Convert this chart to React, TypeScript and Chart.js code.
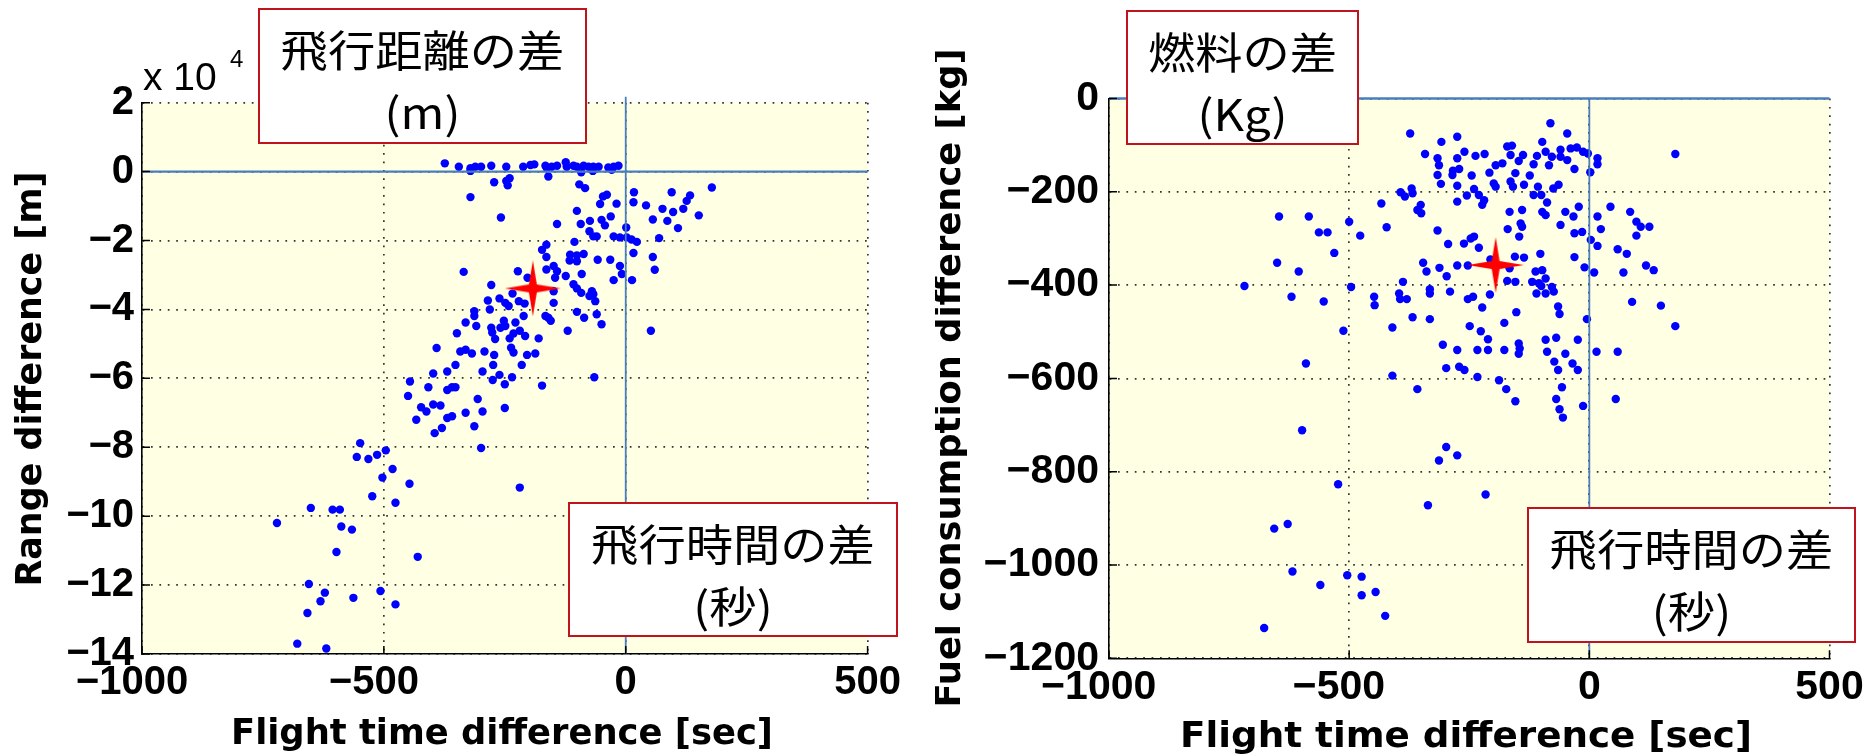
import React, { useEffect, useRef } from 'react';
import { Chart, registerables } from 'chart.js';

Chart.register(...registerables);

// ---------------- Data: left panel (flight time difference [sec] vs range difference [m])
const rangeTimeDiff = [
  -374, -345, -321, -311, -299, -278, -247, -212, -197, -189,
  -166, -163, -153, -142, -124, -122, -108, -101, -87, -77,
  -67, -56, -36, -25, -15, -321, -92, -68, -29, -272,
  -247, -240, -244, -160, -321, -258, -96, -84, -101, -142,
  -47, -39, -53, -19, 17, 16, 42, 95, 133, 126,
  119, 76, 98, 56, 86, 108, 151, 178, -74, -93,
  -50, -31, -43, -75, -67, -60, -25, -12, 1, 2,
  12, 23, 16, 69, 56, 60, -106, -164, -173, -164,
  -115, -101, -87, -116, -101, -58, -32, -12, -8, -25,
  13, -91, -149, -142, -164, -146, -124, -335, -223, -203,
  -278, -108, -70, -234, -221, -209, -149, -149, -101, -92,
  -75, -67, -63, -285, -261, -249, -242, -281, -313, -313,
  -211, -166, -160, -155, -101, -86, -60, -50, -120, 52,
  -331, -309, -349, -278, -276, -270, -259, -252, -249, -228,
  -219, -232, -240, -208, -180, -391, -342, -331, -318, -292,
  -272, -237, -232, -204, -187, -215, -274, -352, -369, -398,
  -296, -261, -235, -275, -250, -173, -65, -446, -408, -369,
  -359, -352, -450, -306, -423, -412, -398, -383, -433, -369,
  -359, -331, -296, -250, -395, -380, -313, -299, -549, -556,
  -532, -514, -496, -482, -503, -447, -524, -476, -219, -651,
  -606, -591, -721, -588, -566, -598, -430, -655, -622, -631,
  -563, -507, -476, -658, -679, -619,
];
const rangeDiff = [
  2400, 1400, 1000, 1400, 1400, 1700, 1400, 1400, 1900, 2100,
  1700, 1000, 1400, 1700, 2700, 1400, 1700, 1400, 1700, 1400,
  1400, 1400, 1200, 1400, 1700, 200, -200, 200, 500, -3100,
  -2700, -1900, -4000, -1400, -7400, -13300, -3700, -4800, -11400, -15200,
  -7200, -6700, -9400, -9300, -6000, -8900, -9800, -6000, -6900, -8500,
  -10800, -10800, -11700, -13900, -14300, -16400, -12700, -4600, -14300, -15200,
  -14000, -13000, -15600, -17300, -18800, -18800, -18800, -19100, -16200, -19100,
  -19700, -20400, -23600, -19300, -24800, -28500, -20400, -21200, -22700, -24800,
  -24100, -24300, -23900, -25800, -26000, -25600, -25600, -27400, -29700, -31500,
  -31500, -29700, -27400, -28900, -28400, -30800, -30300, -29100, -28900, -30800,
  -32900, -32700, -34700, -35400, -37600, -38300, -34700, -38100, -33900, -35200,
  -36100, -35600, -37600, -37400, -36800, -38100, -39000, -40000, -40500, -41900,
  -41900, -41900, -42400, -43300, -40700, -42400, -41400, -44300, -46200, -46200,
  -43800, -44800, -46900, -45300, -46700, -48600, -45300, -43300, -44800, -43800,
  -46200, -47000, -48400, -47700, -48400, -51200, -52200, -51700, -52800, -52200,
  -53200, -51100, -52500, -53200, -52800, -56100, -56100, -56100, -58000, -58600,
  -58000, -59000, -59700, -60500, -61700, -62100, -59700, -60900, -62600, -63400,
  -62600, -62600, -65100, -66000, -68400, -69600, -67600, -67900, -72000, -71500,
  -71000, -70000, -69600, -68600, -75900, -74400, -73900, -80200, -78800, -82800,
  -83400, -82200, -80900, -86300, -88800, -90600, -94200, -96100, -91700, -97600,
  -98100, -98100, -102000, -103000, -103900, -110400, -111800, -119700, -122200, -124700,
  -123700, -121700, -125600, -128100, -137000, -138400,
];
const rangeMeanTime = [-192];
const rangeMeanDiff = [-33900];

// ---------------- Data: right panel (flight time difference [sec] vs fuel consumption difference [kg])
const fuelTimeDiff = [
  -373, -308, -275, -342, -316, -313, -275, -260, -237, -218,
  -316, -309, -284, -271, -285, -275, -245, -208, -195, -181,
  -171, -161, -164, -147, -138, -199, -195, -164, -154, -159,
  -136, -124, -116, -109, -98, -91, -81, -84, -60, -46,
  -78, -60, -39, -46, -31, -64, -75, -107, -116, -100,
  -88, -98, -91, -50, -33, -60, -31, -370, -393, -384,
  -368, -433, -351, -358, -350, -275, -255, -240, -230, -219,
  -223, -166, -140, -500, -477, -422, -316, -143, -140, -170,
  -146, -294, -261, -247, -240, -230,
  -646, -584, -563, -545, -718,
  -26, -13, -3, 17, 17, 2, 179, -22, 17, 24,
  -15, 44, 85, 98, 107, 125, 98, 3, 17, 59,
  -650, -605, -531, -620, -553, -496, -512, -590, -598,
  -346, -339, -312, -297, -275, -253,
  -388, -448, -447, -396, -394, -380,
  -332, -332, -290, -253, -242,
  -223, -207, -206,
  -166, -171, -154, -155, -136,
  -112, -119, -110, -105,
  -368, -332, -410,
  -249, -226, -211,
  -177, -152,
  -305, -275, -233, -211, -177, -147, -145, -147,
  -298, -271, -260, -233,
  -410, -358,
  -188, -173, -154,
  -102, -31, -10, 10, 78, 71, 118, 134,
  -98, -91, -78, -74, -91, -100,
  -65, -62, -5, 89, 149, 179,
  -91, -69, -24, -88, -50, 15, 59,
  -73, -65, -35, -24,
  -57, -69, -62, -55, -13, 55,
  -298, -275, -313, -216, -336, -523, -656, -628, -618, -560,
  -504, -474, -474, -445, -425, -677,
];
const fuelDiff = [
  -75, -93, -82, -119, -128, -143, -128, -114, -123, -119,
  -164, -183, -155, -151, -164, -187, -165, -159, -143, -139,
  -103, -101, -121, -134, -121, -182, -189, -178, -160, -189,
  -185, -165, -141, -123, -93, -114, -53, -143, -110, -75,
  -125, -125, -107, -132, -151, -185, -193, -189, -207, -207,
  -223, -243, -250, -243, -253, -271, -289, -193, -201, -210,
  -203, -225, -228, -239, -246, -221, -208, -194, -207, -218,
  -228, -243, -239, -264, -294, -276, -283, -268, -275, -280,
  -296, -312, -311, -300, -296, -320,
  -253, -253, -287, -287, -402,
  -105, -114, -118, -128, -141, -158, -119, -232, -253, -280,
  -286, -232, -243, -264, -275, -275, -294, -303, -316, -323,
  -352, -371, -331, -425, -435, -404, -498, -568, -711,
  -352, -371, -363, -381, -358, -358,
  -393, -425, -443, -418, -430, -430,
  -409, -418, -414, -430, -425,
  -448, -420, -345,
  -364, -391, -393, -339, -341,
  -371, -393, -418, -396,
  -469, -473, -491,
  -488, -499, -516,
  -481, -458,
  -528, -539, -539, -539, -539, -525, -536, -547,
  -578, -575, -582, -597,
  -594, -623,
  -604, -623, -649,
  -333, -340, -362, -373, -333, -373, -358, -368,
  -368, -386, -404, -414, -418, -402,
  -446, -462, -473, -436, -444, -488,
  -517, -513, -517, -543, -547, -543, -543,
  -564, -582, -568, -582,
  -619, -644, -666, -684, -659, -644,
  -747, -765, -776, -849, -872, -827, -922, -912, -1014, -1043,
  -1022, -1025, -1065, -1058, -1109, -1135,
];
const fuelMeanTime = [-195];
const fuelMeanDiff = [-357];

// ---------------- Axes / ticks / reference lines
const timeTicks = [-1000, -500, 0, 500];
const rangeTicks = [20000, 0, -20000, -40000, -60000, -80000, -100000, -120000, -140000];
const rangeTickScale = 10000; // labels shown in units of 10^4 m
const fuelTicks = [0, -200, -400, -600, -800, -1000, -1200];
const zeroLineTimes = [-1000, 500];
const rangeZeroVertical = [-140000, 21700];
const fuelZeroVertical = [-1200, 0];

const DOT_BLUE = '#0000FF';
const REF_BLUE = '#4A7EBB';
const GRID = '#333333';
const PLOT_BG = '#FFFFE4';
const BOX_RED = '#C0141C';

const minus = (v: number) => (v < 0 ? '\u2212' + Math.abs(v) : String(v));

function zip(xs: number[], ys: number[]) {
  return xs.map((x, i) => ({ x, y: ys[i] }));
}

function makeStar(size: number, color: string) {
  const c = document.createElement('canvas');
  c.width = size;
  c.height = size;
  const ctx = c.getContext('2d')!;
  const r = size / 2;
  const ri = size * 0.1;
  ctx.fillStyle = color;
  ctx.beginPath();
  for (let i = 0; i < 8; i++) {
    const a = -Math.PI / 2 + (i * Math.PI) / 4;
    const rad = i % 2 === 0 ? r : ri;
    ctx.lineTo(r + rad * Math.cos(a), r + rad * Math.sin(a));
  }
  ctx.closePath();
  ctx.fill();
  return c;
}

const bgPlugin = {
  id: 'plotBg',
  beforeDraw(chart: any) {
    const { ctx, chartArea } = chart;
    ctx.save();
    ctx.fillStyle = PLOT_BG;
    ctx.fillRect(chartArea.left, chartArea.top, chartArea.right - chartArea.left, chartArea.bottom - chartArea.top);
    ctx.restore();
  },
};

const innerTicksPlugin = {
  id: 'innerTicks',
  afterDatasetsDraw(chart: any) {
    const { ctx, chartArea, scales } = chart;
    ctx.save();
    ctx.strokeStyle = '#000';
    ctx.lineWidth = 1.5;
    ctx.beginPath();
    scales.x.ticks.forEach((t: any) => {
      const px = scales.x.getPixelForValue(t.value);
      ctx.moveTo(px, chartArea.bottom);
      ctx.lineTo(px, chartArea.bottom - 8);
    });
    scales.y.ticks.forEach((t: any) => {
      const py = scales.y.getPixelForValue(t.value);
      ctx.moveTo(chartArea.left, py);
      ctx.lineTo(chartArea.left + 8, py);
    });
    ctx.stroke();
    ctx.restore();
  },
};

type TextItem = {
  text: string;
  x: number;
  y: number;
  font: string;
  width?: number;
  rotate?: number;
  align?: CanvasTextAlign;
  baseline?: CanvasTextBaseline;
};

function makeTextPlugin(id: string, items: TextItem[]) {
  return {
    id,
    afterDraw(chart: any) {
      const ctx = chart.ctx;
      for (const it of items) {
        ctx.save();
        ctx.font = it.font;
        ctx.fillStyle = '#000';
        ctx.textAlign = it.align || 'center';
        ctx.textBaseline = it.baseline || 'middle';
        ctx.translate(it.x, it.y);
        if (it.rotate) ctx.rotate(it.rotate);
        if (it.width) {
          const w = ctx.measureText(it.text).width;
          ctx.scale(it.width / w, 1);
        }
        ctx.fillText(it.text, 0, 0);
        ctx.restore();
      }
    },
  };
}

const TITLE_FONT = 'bold 35px "DejaVu Sans", sans-serif';
const TICK_FAMILY = '"Liberation Sans", Arial, sans-serif';

function buildConfig(opts: {
  xs: number[];
  ys: number[];
  meanX: number[];
  meanY: number[];
  yTicks: number[];
  yLabel: (v: number) => string;
  vertical: number[];
  area: { left: number; right: number; top: number; bottom: number };
  tickSize: number;
  yPad: number;
  texts: TextItem[];
  textId: string;
}) {
  const { area } = opts;
  const W = 935;
  const H = 754;
  const yMin = Math.min(...opts.yTicks);
  const yMax = Math.max(...opts.yTicks);
  const star = makeStar(56, '#FF0000');
  const gridCommon = {
    color: GRID,
    lineWidth: 1.7,
    drawTicks: false,
  };
  const borderCommon = { display: true, color: '#000', width: 1.6, dash: [1.7, 6.7] };
  return {
    type: 'scatter',
    data: {
      datasets: [
        {
          data: zip(opts.xs, opts.ys),
          backgroundColor: DOT_BLUE,
          borderWidth: 0,
          pointRadius: 4.2,
          order: 3,
        },
        {
          data: zip(zeroLineTimes, [0, 0]),
          showLine: true,
          borderColor: REF_BLUE,
          borderWidth: 2.4,
          pointRadius: 0,
          order: 2,
          clip: false,
        },
        {
          data: zip([0, 0], opts.vertical),
          showLine: true,
          borderColor: REF_BLUE,
          borderWidth: 1.8,
          pointRadius: 0,
          order: 2,
          clip: false,
        },
        {
          data: zip(opts.meanX, opts.meanY),
          pointStyle: star,
          pointRadius: 28,
          order: 1,
        },
      ],
    },
    options: {
      responsive: false,
      animation: false,
      events: [],
      devicePixelRatio: 1,
      layout: { padding: { left: 0, top: area.top, right: W - area.right, bottom: 0 } },
      plugins: { legend: { display: false }, tooltip: { enabled: false } },
      scales: {
        x: {
          type: 'linear',
          min: -1000,
          max: 500,
          afterBuildTicks: (s: any) => {
            s.ticks = timeTicks.map((v) => ({ value: v }));
          },
          afterFit: (s: any) => {
            s.height = H - area.bottom;
          },
          ticks: {
            color: '#000',
            padding: 5,
            maxRotation: 0,
            autoSkip: false,
            font: { family: TICK_FAMILY, size: opts.tickSize, weight: 'bold' },
            callback: (v: number) => minus(v) + (v < 0 ? '\u2002' : ''),
          },
          grid: gridCommon,
          border: borderCommon,
        },
        y: {
          type: 'linear',
          min: yMin,
          max: yMax,
          afterBuildTicks: (s: any) => {
            s.ticks = opts.yTicks.map((v) => ({ value: v }));
          },
          afterFit: (s: any) => {
            s.width = area.left;
          },
          ticks: {
            color: '#000',
            padding: opts.yPad,
            autoSkip: false,
            font: { family: TICK_FAMILY, size: opts.tickSize, weight: 'bold' },
            callback: (v: number) => opts.yLabel(v),
          },
          grid: gridCommon,
          border: borderCommon,
        },
      },
    },
    plugins: [bgPlugin, innerTicksPlugin, makeTextPlugin(opts.textId, opts.texts)],
  };
}

function ScatterPanel(props: { left: number; config: () => any }) {
  const ref = useRef<HTMLCanvasElement | null>(null);
  useEffect(() => {
    if (!ref.current) return;
    const chart = new Chart(ref.current, props.config() as any);
    return () => chart.destroy();
  }, []);
  return (
    <canvas
      ref={ref}
      width={935}
      height={754}
      style={{ position: 'absolute', left: props.left, top: 0, width: 935, height: 754 }}
    />
  );
}

function NoteBox(props: { left: number; top: number; width: number; height: number; line1: string; line2: string }) {
  const lineStyle = (center: number): React.CSSProperties => ({
    position: 'absolute',
    left: 0,
    width: '100%',
    top: center - 26,
    height: 52,
    lineHeight: '52px',
    textAlign: 'center',
    fontSize: 43,
    fontFamily: '"Noto Sans CJK JP", "Noto Sans", sans-serif',
    color: '#000',
    transform: 'scaleX(1.1)',
    whiteSpace: 'nowrap',
  });
  return (
    <div
      style={{
        position: 'absolute',
        left: props.left,
        top: props.top,
        width: props.width,
        height: props.height,
        boxSizing: 'border-box',
        border: `2.5px solid ${BOX_RED}`,
        background: '#fff',
      }}
    >
      <div style={lineStyle(38)}>{props.line1}</div>
      <div style={lineStyle(100)}>{props.line2}</div>
    </div>
  );
}

export default function App() {
  const leftConfig = () =>
    buildConfig({
      xs: rangeTimeDiff,
      ys: rangeDiff,
      meanX: rangeMeanTime,
      meanY: rangeMeanDiff,
      yTicks: rangeTicks,
      yLabel: (v) => minus(Math.round(v / rangeTickScale)),
      vertical: rangeZeroVertical,
      area: { left: 142, right: 867.6, top: 102.7, bottom: 654 },
      tickSize: 40,
      yPad: 8,
      textId: 'leftText',
      texts: [
        { text: 'Range difference [m]', x: 32, y: 379, font: TITLE_FONT, width: 415, rotate: -Math.PI / 2 },
        { text: 'Flight time difference [sec]', x: 502, y: 744, font: TITLE_FONT, width: 542, baseline: 'alphabetic' },
        { text: 'x 10', x: 143, y: 90, font: `39px ${TICK_FAMILY}`, align: 'left', baseline: 'alphabetic' },
        { text: '4', x: 230, y: 67, font: `24px ${TICK_FAMILY}`, align: 'left', baseline: 'alphabetic' },
      ],
    });
  const rightConfig = () =>
    buildConfig({
      xs: fuelTimeDiff,
      ys: fuelDiff,
      meanX: fuelMeanTime,
      meanY: fuelMeanDiff,
      yTicks: fuelTicks,
      yLabel: (v) => minus(v),
      vertical: fuelZeroVertical,
      area: { left: 174, right: 894.5, top: 98.5, bottom: 658.3 },
      tickSize: 41,
      yPad: 10,
      textId: 'rightText',
      texts: [
        { text: 'Fuel consumption difference [kg]', x: 16, y: 378, font: TITLE_FONT, width: 659, rotate: -Math.PI / 2 },
        { text: 'Flight time difference [sec]', x: 531, y: 747, font: TITLE_FONT, width: 572, baseline: 'alphabetic' },
      ],
    });

  return (
    <div style={{ position: 'absolute', left: 0, top: 0, width: 1870, height: 754, background: '#fff', overflow: 'hidden' }}>
      <ScatterPanel left={0} config={leftConfig} />
      <ScatterPanel left={935} config={rightConfig} />
      <NoteBox left={258} top={8} width={329} height={136} line1="飛行距離の差" line2="(m)" />
      <NoteBox left={568} top={502} width={330} height={135} line1="飛行時間の差" line2="(秒)" />
      <NoteBox left={1126} top={10} width={233} height={135} line1="燃料の差" line2="(Kg)" />
      <NoteBox left={1527} top={507} width={329} height={136} line1="飛行時間の差" line2="(秒)" />
    </div>
  );
}
